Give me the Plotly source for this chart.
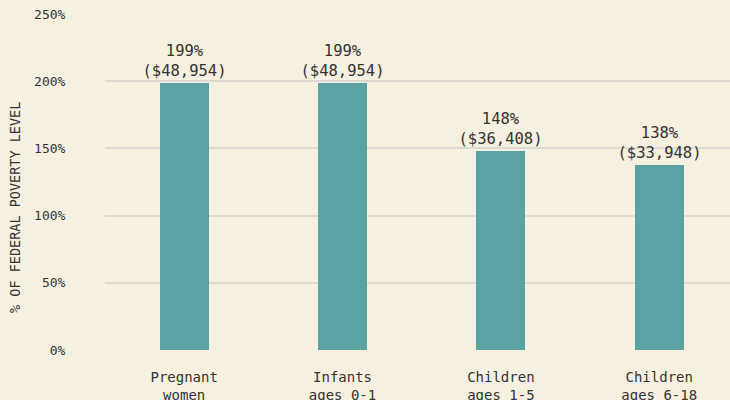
import plotly.graph_objects as go

categories = ["Pregnant<br>women", "Infants<br>ages 0-1", "Children<br>ages 1-5", "Children<br>ages 6-18"]
fpl_pct = [199, 199, 148, 138]
income = ["$48,954", "$48,954", "$36,408", "$33,948"]
y_ticks = [0, 50, 100, 150, 200, 250]
y_tick_labels = ["0%", "50%", "100%", "150%", "200%", "250%"]
y_title = "% OF FEDERAL POVERTY LEVEL"

labels = [f"{p}%<br>({d})" for p, d in zip(fpl_pct, income)]

FONT = "DejaVu Sans Mono"
TXT = "#333333"

fig = go.Figure(go.Bar(
    x=list(range(len(categories))),
    y=fpl_pct,
    width=0.31,
    marker=dict(color="#5ba3a2", line=dict(width=0)),
    text=labels,
    textposition="outside",
    constraintext="none",
    textfont=dict(family=FONT, size=15.5, color=TXT),
    cliponaxis=False,
))

fig.update_layout(
    width=730, height=400,
    paper_bgcolor="#f6f0e0",
    plot_bgcolor="#f6f0e0",
    margin=dict(l=105, r=0, t=14, b=50),
    font=dict(family=FONT, size=13, color=TXT),
    showlegend=False,
    bargap=0,
    annotations=[dict(
        text=y_title, textangle=-90,
        xref="paper", yref="paper",
        x=-0.144, y=0.4226, xanchor="center", yanchor="middle",
        showarrow=False,
        font=dict(family=FONT, size=13.5, color=TXT),
    )],
)
fig.update_xaxes(
    tickmode="array",
    tickvals=list(range(len(categories))),
    ticktext=categories,
    range=[-0.5, 3.447],
    showgrid=False,
    zeroline=False,
    showline=False,
    ticks="outside",
    ticklen=14,
    tickcolor="rgba(0,0,0,0)",
    tickfont=dict(family=FONT, size=14, color=TXT),
    automargin=False,
)
fig.update_yaxes(
    range=[0, 250],
    tickmode="array",
    tickvals=y_ticks,
    ticktext=y_tick_labels,
    showgrid=True,
    gridcolor="#dcdad2",
    gridwidth=2,
    zeroline=False,
    ticks="outside",
    ticklen=36,
    tickcolor="rgba(0,0,0,0)",
    tickfont=dict(family=FONT, size=13, color=TXT),
    automargin=False,
)

fig.write_html(
    "out.html",
    config={"displayModeBar": False},
    post_script="document.body.style.margin='0';document.body.style.padding='0';",
)
